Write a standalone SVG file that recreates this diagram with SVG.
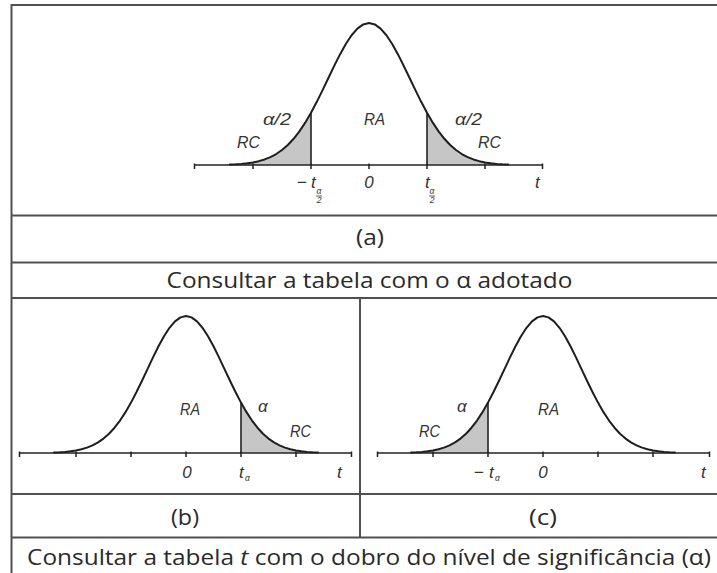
<svg xmlns="http://www.w3.org/2000/svg" width="717" height="573" viewBox="0 0 717 573">
<style>
.frame{stroke:#505050;stroke-width:2;fill:none}
.curve{stroke:#1e1e1e;stroke-width:2;fill:none;stroke-linejoin:round;stroke-linecap:round}
.shade{fill:#c6c6c6;stroke:none}
.axis{stroke:#222;stroke-width:1.5;fill:none}
.cut{stroke:#222;stroke-width:1.6}
.lbl{font-family:"Liberation Sans",Arial,sans-serif;font-style:italic;font-size:17px;fill:#333}
.num{font-family:"Liberation Sans",Arial,sans-serif;font-size:17px;fill:#333}
.sub{font-family:"Liberation Sans",Arial,sans-serif;font-style:italic;font-size:8.5px;fill:#333}
.cap{font-family:"Open Sans","Liberation Sans",sans-serif;font-size:22px;fill:#2a2a2a}
</style>
<defs>
<path id="bellA" d="M-139.2,-0.45 L-133.4,-0.72 L-127.6,-1.12 L-121.8,-1.73 L-116,-2.6 L-110.2,-3.84 L-104.4,-5.56 L-98.6,-7.89 L-92.8,-10.98 L-87,-14.97 L-81.2,-20 L-75.4,-26.2 L-69.6,-33.64 L-63.8,-42.34 L-58,-52.24 L-52.2,-63.17 L-46.4,-74.88 L-40.6,-86.99 L-34.8,-99.07 L-29,-110.59 L-23.2,-121 L-17.4,-129.78 L-11.6,-136.43 L-5.8,-140.59 L0,-142 L5.8,-140.59 L11.6,-136.43 L17.4,-129.78 L23.2,-121 L29,-110.59 L34.8,-99.07 L40.6,-86.99 L46.4,-74.88 L52.2,-63.17 L58,-52.24 L63.8,-42.34 L69.6,-33.64 L75.4,-26.2 L81.2,-20 L87,-14.97 L92.8,-10.98 L98.6,-7.89 L104.4,-5.56 L110.2,-3.84 L116,-2.6 L121.8,-1.73 L127.6,-1.12 L133.4,-0.72 L139.2,-0.45"/>
<path id="bellB" d="M-132,-0.43 L-126.5,-0.69 L-121,-1.08 L-115.5,-1.67 L-110,-2.51 L-104.5,-3.71 L-99,-5.36 L-93.5,-7.61 L-88,-10.59 L-82.5,-14.44 L-77,-19.3 L-71.5,-25.28 L-66,-32.46 L-60.5,-40.85 L-55,-50.4 L-49.5,-60.95 L-44,-72.24 L-38.5,-83.93 L-33,-95.58 L-27.5,-106.7 L-22,-116.74 L-16.5,-125.21 L-11,-131.63 L-5.5,-135.64 L0,-137 L5.5,-135.64 L11,-131.63 L16.5,-125.21 L22,-116.74 L27.5,-106.7 L33,-95.58 L38.5,-83.93 L44,-72.24 L49.5,-60.95 L55,-50.4 L60.5,-40.85 L66,-32.46 L71.5,-25.28 L77,-19.3 L82.5,-14.44 L88,-10.59 L93.5,-7.61 L99,-5.36 L104.5,-3.71 L110,-2.51 L115.5,-1.67 L121,-1.08 L126.5,-0.69 L132,-0.43"/>
</defs>
<rect width="717" height="573" fill="#ffffff"/>
<g id="frame" class="frame">
<path d="M11.5,573 V5 H717"/>
<path d="M11.5,215.5 H717 M11.5,262.5 H717 M11.5,298 H717 M11.5,494 H717 M11.5,537.5 H717"/>
<path d="M360,298 V537.5"/>
</g>
<g id="panel-a">
<g transform="translate(369,165)">
<path class="shade" d="M-139.2,0 L-139.2,-0.45 L-133.4,-0.72 L-127.6,-1.12 L-121.8,-1.73 L-116,-2.6 L-110.2,-3.84 L-104.4,-5.56 L-98.6,-7.89 L-92.8,-10.98 L-87,-14.97 L-81.2,-20 L-75.4,-26.2 L-69.6,-33.64 L-63.8,-42.34 L-58,-52.24 L-58,0 Z"/>
<path class="shade" d="M58,0 L58,-52.24 L63.8,-42.34 L69.6,-33.64 L75.4,-26.2 L81.2,-20 L87,-14.97 L92.8,-10.98 L98.6,-7.89 L104.4,-5.56 L110.2,-3.84 L116,-2.6 L121.8,-1.73 L127.6,-1.12 L133.4,-0.72 L139.2,-0.45 L139.2,0 Z"/>
<line class="axis" x1="-175" y1="0" x2="174" y2="0"/>
<path class="axis" d="M-174.5,-1.5 v5.5 M-116,-1.5 v5.5 M-58,-1.5 v5.5 M0,-1.5 v5.5 M58,-1.5 v5.5 M116,-1.5 v5.5 M173.5,-1.5 v5.5"/>
<line class="cut" x1="-58" y1="0" x2="-58" y2="-52.24"/>
<line class="cut" x1="58" y1="0" x2="58" y2="-52.24"/>
<use href="#bellA" class="curve"/>
</g>
<text class="lbl" x="263" y="125" textLength="28" lengthAdjust="spacingAndGlyphs">α/2</text>
<text class="lbl" x="237" y="148" textLength="23" lengthAdjust="spacingAndGlyphs">RC</text>
<text class="lbl" x="364" y="125" textLength="21" lengthAdjust="spacingAndGlyphs">RA</text>
<text class="lbl" x="455" y="125" textLength="27" lengthAdjust="spacingAndGlyphs">α/2</text>
<text class="lbl" x="478" y="148" textLength="23" lengthAdjust="spacingAndGlyphs">RC</text>
<text class="num" x="297" y="188">−</text>
<text class="lbl" x="311" y="188">t</text>
<text class="sub" x="319" y="194" text-anchor="middle">α</text>
<line x1="316" y1="196" x2="322" y2="196" stroke="#333" stroke-width="0.8"/>
<text class="sub" x="319" y="203" text-anchor="middle">2</text>
<text class="lbl" x="369" y="188" text-anchor="middle">0</text>
<text class="lbl" x="425" y="188">t</text>
<text class="sub" x="432" y="194" text-anchor="middle">α</text>
<line x1="429" y1="196" x2="435" y2="196" stroke="#333" stroke-width="0.8"/>
<text class="sub" x="432" y="203" text-anchor="middle">2</text>
<text class="lbl" x="535" y="188">t</text>
</g>
<g id="panel-b">
<g transform="translate(186,453)">
<path class="shade" d="M55,0 L55,-50.4 L60.5,-40.85 L66,-32.46 L71.5,-25.28 L77,-19.3 L82.5,-14.44 L88,-10.59 L93.5,-7.61 L99,-5.36 L104.5,-3.71 L110,-2.51 L115.5,-1.67 L121,-1.08 L126.5,-0.69 L132,-0.43 L132,0 Z"/>
<line class="axis" x1="-167" y1="0" x2="166" y2="0"/>
<path class="axis" d="M-166.5,-1.5 v5.5 M-110,-1.5 v5.5 M-55,-1.5 v5.5 M0,-1.5 v5.5 M55,-1.5 v5.5 M110,-1.5 v5.5 M165.5,-1.5 v5.5"/>
<line class="cut" x1="55" y1="0" x2="55" y2="-50.4"/>
<use href="#bellB" class="curve"/>
</g>
<text class="lbl" x="180" y="415" textLength="20" lengthAdjust="spacingAndGlyphs">RA</text>
<text class="lbl" x="258" y="412">α</text>
<text class="lbl" x="290" y="437" textLength="21" lengthAdjust="spacingAndGlyphs">RC</text>
<text class="lbl" x="187" y="478" text-anchor="middle">0</text>
<text class="lbl" x="239" y="478">t</text>
<text class="sub" x="245" y="481">α</text>
<text class="lbl" x="337" y="478">t</text>
</g>
<g id="panel-c">
<g transform="translate(543,453)">
<path class="shade" d="M-132,0 L-132,-0.43 L-126.5,-0.69 L-121,-1.08 L-115.5,-1.67 L-110,-2.51 L-104.5,-3.71 L-99,-5.36 L-93.5,-7.61 L-88,-10.59 L-82.5,-14.44 L-77,-19.3 L-71.5,-25.28 L-66,-32.46 L-60.5,-40.85 L-55,-50.4 L-55,0 Z"/>
<line class="axis" x1="-166" y1="0" x2="167" y2="0"/>
<path class="axis" d="M-165.5,-1.5 v5.5 M-110,-1.5 v5.5 M-55,-1.5 v5.5 M0,-1.5 v5.5 M55,-1.5 v5.5 M110,-1.5 v5.5 M166.5,-1.5 v5.5"/>
<line class="cut" x1="-55" y1="0" x2="-55" y2="-50.4"/>
<use href="#bellB" class="curve"/>
</g>
<text class="lbl" x="457" y="412">α</text>
<text class="lbl" x="419" y="437" textLength="21" lengthAdjust="spacingAndGlyphs">RC</text>
<text class="lbl" x="538" y="415" textLength="21" lengthAdjust="spacingAndGlyphs">RA</text>
<text class="num" x="474" y="478">−</text>
<text class="lbl" x="489" y="478">t</text>
<text class="sub" x="495" y="481">α</text>
<text class="lbl" x="543" y="478" text-anchor="middle">0</text>
<text class="lbl" x="701" y="478">t</text>
</g>
<g id="captions">
<text class="cap" x="370" y="245" text-anchor="middle" textLength="28" lengthAdjust="spacingAndGlyphs">(a)</text>
<text class="cap" x="369.5" y="288" text-anchor="middle" textLength="406" lengthAdjust="spacingAndGlyphs">Consultar a tabela com o α adotado</text>
<text class="cap" x="185" y="525" text-anchor="middle" textLength="28" lengthAdjust="spacingAndGlyphs">(b)</text>
<text class="cap" x="543" y="525" text-anchor="middle" textLength="28" lengthAdjust="spacingAndGlyphs">(c)</text>
<text class="cap" x="27" y="565" textLength="684" lengthAdjust="spacingAndGlyphs">Consultar a tabela <tspan font-style="italic">t</tspan> com o dobro do nível de significância (α)</text>
</g>
</svg>
